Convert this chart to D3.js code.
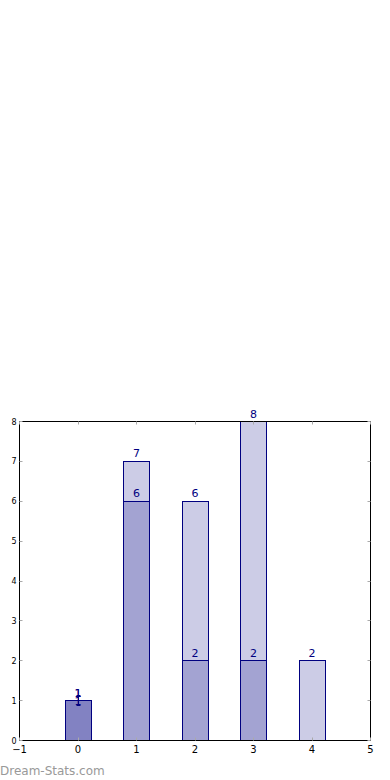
<!DOCTYPE html>
<html>
<head>
<meta charset="utf-8">
<script src="https://cdn.jsdelivr.net/npm/d3@7"></script>
<style>
  body { margin: 0; background: #fff; }
  svg { display: block; font-family: "DejaVu Sans", sans-serif; }
</style>
</head>
<body>
<div id="chart"></div>
<script>
const categories = [0, 1, 2, 3, 4];
const seriesTotal = [1, 7, 6, 8, 2];
const seriesMid = [1, 6, 2, 2, 0];
const seriesLow = [1, 0, 0, 0, 0];
const xTicks = [-1, 0, 1, 2, 3, 4, 5];
const yTicks = [0, 1, 2, 3, 4, 5, 6, 7, 8];

const width = 390, height = 780;
const margin = { top: 421, right: 20, bottom: 40, left: 19 };
const innerW = width - margin.left - margin.right;
const innerH = height - margin.top - margin.bottom;

const svg = d3.select("#chart").append("svg")
    .attr("width", width)
    .attr("height", height);

const g = svg.append("g")
    .attr("transform", `translate(${margin.left + 0.5},${margin.top + 0.5})`);

const x = d3.scaleLinear().domain([-1, 5]).range([0, innerW]);
const y = d3.scaleLinear().domain([0, 8]).range([innerH, 0]);
const barW = Math.round(x(0.45) - x(0));
const px = v => Math.round(v);

// bars, one layer per series, semi transparent so overlaps darken
const layers = [seriesTotal, seriesMid, seriesLow];
const rowsOf = vals => categories.map((c, i) => ({ c: c, v: vals[i] })).filter(d => d.v > 0);

layers.forEach(function(vals){
    g.selectAll(null)
        .data(rowsOf(vals))
        .enter()
        .append("rect")
        .attr("x", d => px(x(d.c) - barW / 2))
        .attr("y", d => px(y(d.v)))
        .attr("width", barW)
        .attr("height", d => px(y(0)) - px(y(d.v)))
        .attr("fill", "#000080")
        .attr("fill-opacity", 0.2)
        .attr("stroke", "none");
});
// outlines drawn once, opaque
layers.forEach(function(vals){
    g.selectAll(null)
        .data(rowsOf(vals))
        .enter()
        .append("rect")
        .attr("x", d => px(x(d.c) - barW / 2))
        .attr("y", d => px(y(d.v)))
        .attr("width", barW)
        .attr("height", d => px(y(0)) - px(y(d.v)))
        .attr("fill", "none")
        .attr("stroke", "#000080")
        .attr("stroke-width", 1);
});

// small error bar on the first bar
const errTop = px(y(1.12)), errBot = px(y(0.88)), ex = px(x(0));
g.append("line").attr("x1", ex).attr("x2", ex).attr("y1", errTop).attr("y2", errBot)
    .attr("stroke", "#000080").attr("stroke-width", 1);
[errTop, errBot].forEach(function(yy){
    g.append("line").attr("x1", ex - 2).attr("x2", ex + 2).attr("y1", yy).attr("y2", yy)
        .attr("stroke", "#000080").attr("stroke-width", 1);
});

// value labels
layers.forEach(function(vals, k){
    g.selectAll(null)
        .data(rowsOf(vals))
        .enter()
        .append("text")
        .attr("x", d => x(d.c))
        .attr("y", d => y(d.v) - (k === 2 ? -4 : 4))
        .attr("text-anchor", "middle")
        .attr("font-size", 11)
        .attr("fill", "#000080")
        .text(d => d.v);
});

// frame
g.append("rect")
    .attr("width", innerW)
    .attr("height", innerH)
    .attr("fill", "none")
    .attr("stroke", "#000")
    .attr("stroke-width", 1);

// tick marks (inside, gray) on all four sides
const tickColor = "#aaa";
xTicks.forEach(function(t){
    g.append("line").attr("x1", px(x(t))).attr("x2", px(x(t))).attr("y1", innerH).attr("y2", innerH - 3)
        .attr("stroke", tickColor);
    g.append("line").attr("x1", px(x(t))).attr("x2", px(x(t))).attr("y1", 0).attr("y2", 3)
        .attr("stroke", tickColor);
});
yTicks.forEach(function(t){
    g.append("line").attr("x1", 0).attr("x2", 3).attr("y1", px(y(t))).attr("y2", px(y(t)))
        .attr("stroke", tickColor);
    g.append("line").attr("x1", innerW).attr("x2", innerW - 3).attr("y1", px(y(t))).attr("y2", px(y(t)))
        .attr("stroke", tickColor);
});

// tick labels
g.selectAll(".xlab")
    .data(xTicks)
    .enter()
    .append("text")
    .attr("x", d => x(d))
    .attr("y", innerH + 12)
    .attr("text-anchor", "middle")
    .attr("font-size", 10)
    .attr("fill", "#000")
    .text(d => d < 0 ? "\u2212" + Math.abs(d) : d);

g.selectAll(".ylab")
    .data(yTicks)
    .enter()
    .append("text")
    .attr("x", -3)
    .attr("y", d => y(d) + 3)
    .attr("text-anchor", "end")
    .attr("font-size", 8)
    .attr("fill", "#000")
    .text(d => d);

// watermark
svg.append("text")
    .attr("x", 0)
    .attr("y", 775)
    .attr("font-size", 12)
    .attr("fill", "#999")
    .text("Dream-Stats.com");
</script>
</body>
</html>
